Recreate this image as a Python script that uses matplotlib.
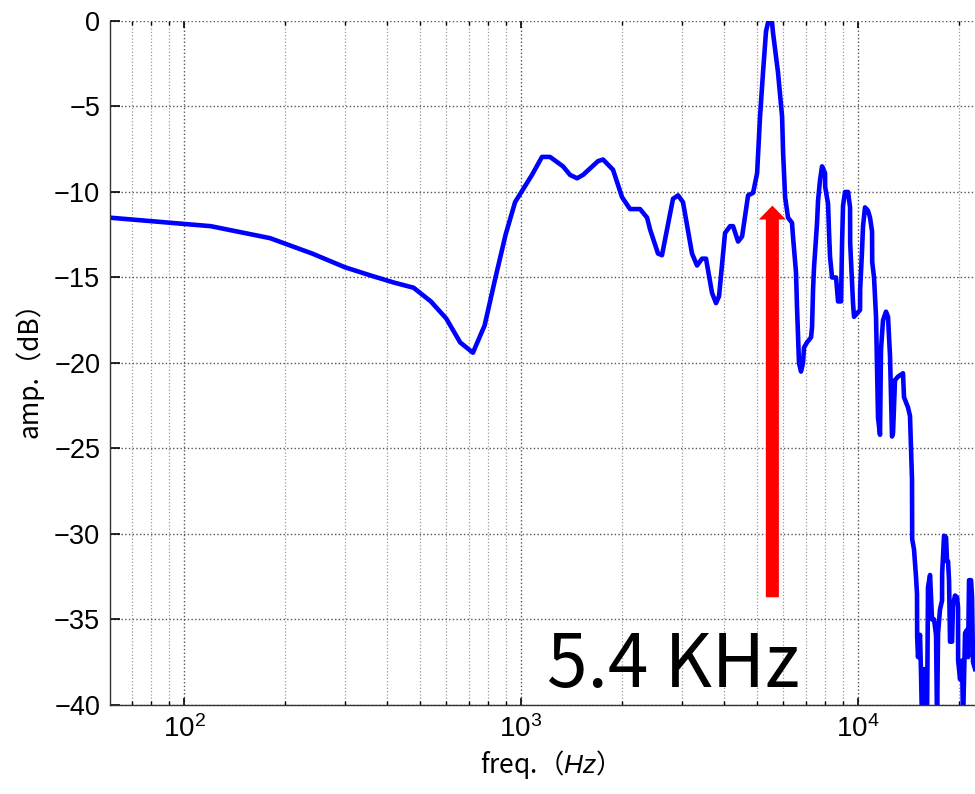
import numpy as np
import matplotlib
matplotlib.use('Agg')
import matplotlib.pyplot as plt
from matplotlib.patches import FancyArrowPatch, ArrowStyle
from matplotlib.ticker import LogLocator, NullFormatter

plt.rcParams['font.family'] = ['Liberation Sans', 'Noto Sans CJK JP', 'DejaVu Sans']
plt.rcParams['mathtext.fontset'] = 'custom'
plt.rcParams['mathtext.rm'] = 'Liberation Sans'
plt.rcParams['mathtext.it'] = 'Liberation Sans:italic'

# frequency response
freq_hz = [60, 120, 180, 240, 300, 360, 420, 480, 540, 600, 660, 720, 780, 840, 900, 960,
           1078, 1154, 1219, 1332, 1398, 1467, 1528, 1692, 1751, 1875, 1994, 2106, 2255,
           2366, 2416, 2550, 2620, 2731, 2825, 2925, 3025, 3217, 3329, 3444, 3540, 3688,
           3790, 3869, 4031, 4172, 4258, 4407, 4529, 4719, 4883, 5019, 5120, 5226, 5334,
           5408, 5558, 5596, 5788, 5953, 5994, 6077, 6199, 6369, 6413, 6546, 6591, 6682,
           6774, 6867, 6914, 7057, 7255, 7305, 7355, 7405, 7559, 7611, 7715, 7822, 7984,
           7990, 8150, 8205, 8261, 8375, 8607, 8666, 8726, 8905, 8967, 9028, 9152, 9342,
           9471, 9480, 9665, 9732, 10139, 10150, 10279, 10349, 10491, 10708, 10856, 11006,
           11020, 11157, 11310, 11387, 11466, 11622, 11702, 11863, 12109, 12275, 12445,
           12616, 12702, 12877, 13143, 13600, 13693, 14071, 14265, 14363, 14462, 14480,
           14661, 14863, 14965, 14980, 15068, 15275, 15380, 15485, 15698, 15914, 16023,
           16133, 16360, 16472, 16585, 16813, 17044, 17161, 17279, 17516, 17757, 17770,
           18001, 18249, 18374, 18500, 18627, 18754, 19012, 19142, 19406, 19673, 19808,
           19820, 20080, 20357, 20497, 20779, 21065, 21208, 21354, 21648, 21797, 21946, 22248]
amp_db = [-11.5, -12.0, -12.7, -13.6, -14.4, -14.9, -15.3, -15.6, -16.4, -17.4, -18.8, -19.4,
          -17.8, -15.0, -12.5, -10.6,
          -9.0, -7.95, -7.95, -8.5, -9.0, -9.2, -9.0, -8.2, -8.1, -8.7, -10.3, -11.0, -11.0,
          -11.5, -12.2, -13.6, -13.7, -11.9, -10.4, -10.2, -10.6, -13.6, -14.3, -13.9, -13.9,
          -15.9, -16.5, -16.1, -12.4, -12.0, -12.0, -12.9, -12.6, -10.2, -10.05, -8.9, -5.6,
          -3.0, -0.6, -0.1, -0.1, -0.7, -3.0, -5.6, -7.7, -10.3, -11.5, -11.8, -12.6, -14.7,
          -16.7, -20.0, -20.5, -20.0, -19.1, -18.8, -18.5, -17.9, -15.7, -14.4, -11.8, -10.5,
          -9.3, -8.5, -8.9, -9.7, -10.7, -12.4, -13.8, -15.0, -15.0, -15.7, -16.4, -16.4,
          -13.0, -10.8, -10.0, -10.0, -10.9, -13.0, -16.5, -17.3, -16.9, -15.7, -13.4, -12.0,
          -10.9, -11.1, -11.5, -12.3, -14.1, -15.0, -17.3, -20.2, -23.2, -24.2, -19.2, -17.5,
          -17.0, -17.3, -19.6, -24.3, -24.1, -21.0, -20.8, -20.6, -22.0, -22.6, -23.1, -24.9,
          -26.8, -30.3, -30.9, -32.5, -33.5, -36.0, -37.2, -35.9, -38.1, -41.0, -37.9, -38.1,
          -41.0, -33.1, -32.4, -33.7, -35.0, -35.0, -35.9, -41.0, -35.8, -34.4, -33.9, -32.3,
          -30.1, -30.2, -31.6, -31.6, -32.7, -36.3, -36.3, -34.1, -33.6, -33.7, -34.3, -37.4,
          -38.5, -37.4, -41.0, -35.8, -35.6, -37.2, -32.7, -32.7, -33.7, -37.5, -37.9]

peak_label = '5.4 KHz'
arrow_x = 5570
arrow_db = (-33.7, -10.8)

fig = plt.figure(figsize=(9.75, 7.94), dpi=100)
ax = fig.add_axes([0.1128, 0.1121, 0.8882, 0.8615])

ax.semilogx(freq_hz, amp_db, color='#0000ff', lw=3.3, solid_joinstyle='round')

ax.set_xlim(60.3, 22390)
ax.set_ylim(-40, 0)
ax.set_yticks(np.arange(-40, 1, 5))
ax.xaxis.set_major_locator(LogLocator(base=10))
ax.xaxis.set_minor_locator(LogLocator(base=10, subs=np.arange(2, 10)))
ax.xaxis.set_minor_formatter(NullFormatter())

ax.grid(True, which='major', linestyle=':', color='#555555', lw=1.0)
ax.grid(True, which='minor', axis='x', linestyle=':', color='#999999', lw=0.9)

ax.spines['top'].set_visible(False)
ax.spines['right'].set_visible(False)
for s in ['left', 'bottom']:
    ax.spines[s].set_color('#333333')
    ax.spines[s].set_linewidth(1.0)

ax.tick_params(axis='y', which='major', direction='in', length=7, width=1.2, labelsize=19.5, pad=7)
ax.tick_params(axis='x', which='major', direction='in', length=5, width=1.2, labelsize=20, pad=7, top=True)
ax.tick_params(axis='x', which='minor', direction='in', length=3, width=1.0, top=True)

ax.set_xlabel('freq.（$\\mathit{Hz}$）', fontsize=19, family=['Noto Sans CJK JP'], labelpad=4)
ax.set_ylabel('amp.（dB）', fontsize=19, family=['Noto Sans CJK JP'], labelpad=8)

# red arrow pointing at the peak
arr = FancyArrowPatch((arrow_x, arrow_db[0]), (arrow_x, arrow_db[1]),
                      arrowstyle=ArrowStyle('simple', head_length=10, head_width=19.5, tail_width=9.4),
                      mutation_scale=1, color='#ff0000', lw=0, shrinkA=0, shrinkB=0, zorder=3)
ax.add_patch(arr)

ax.text(1194, -38.95, peak_label, fontsize=52.5, family=['Noto Sans CJK JP'],
        ha='left', va='baseline', color='black', zorder=4)

plt.savefig('out.png', dpi=100)
